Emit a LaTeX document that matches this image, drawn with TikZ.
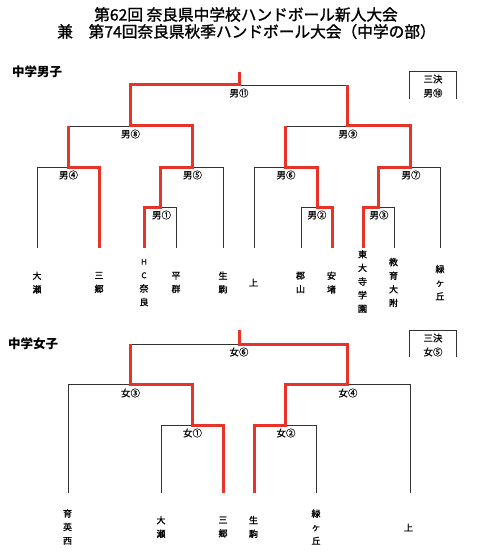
\documentclass[tikz,border=0pt]{standalone}
\usepackage{fontspec}
\newfontfamily\jp{Noto Sans CJK JP}
\newfontfamily\jpm{Noto Sans CJK JP}[AutoFakeBold=1.3]
\newfontfamily\jpl{Noto Sans CJK JP}[AutoFakeBold=0.6]
\definecolor{redline}{RGB}{232,52,40}
\begin{document}
\begin{tikzpicture}[x=1pt,y=-1pt,
  ln/.style={draw=black!80, line width=0.9pt},
  win/.style={draw=redline, line width=3pt},
  lab/.style={font=\jpl\bfseries\fontsize{9.5}{11}\selectfont, inner sep=0pt},
  team/.style={font=\jpm\bfseries\fontsize{9}{13.6}\selectfont, align=center, inner sep=0pt},
  ttl/.style={font=\jpm\bfseries\fontsize{15.7}{18}\selectfont, inner sep=0pt},
  hdr/.style={font=\jp\bfseries\fontsize{12.5}{14}\selectfont, inner sep=0pt, anchor=west}]
\useasboundingbox (0,0) rectangle (480,559);

% titles
\node[ttl] (title1) at (246,14.5) {第62回 奈良県中学校ハンドボール新人大会};
\node[ttl] (title2) at (246.5,31.5) {兼　第74回奈良県秋季ハンドボール大会（中学の部）};

%================ MEN ================
\node[hdr] (hm) at (12,72) {中学男子};

\coordinate (m1) at (37,248);  \coordinate (m2) at (99,248);
\coordinate (m3) at (144,248); \coordinate (m4) at (176,248);
\coordinate (m5) at (223,248); \coordinate (m6) at (254,248);
\coordinate (m7) at (301,248); \coordinate (m8) at (332,248);
\coordinate (m9) at (363,248); \coordinate (m10) at (394,248);
\coordinate (m11) at (440,248);

\coordinate (M1) at (160,207); \coordinate (M2) at (317,207);
\coordinate (M3) at (378,207); \coordinate (M4) at (68,167);
\coordinate (M5) at (192,167); \coordinate (M6) at (285,167);
\coordinate (M7) at (410,167); \coordinate (M8) at (130,126);
\coordinate (M9) at (347,126); \coordinate (M11) at (239,85);
\coordinate (mtop) at (239,72);

\draw[ln] (m1) |- (M4);  \draw[ln] (m2) |- (M4);
\draw[ln] (m3) |- (M1);  \draw[ln] (m4) |- (M1);
\draw[ln] (M1) |- (M5);  \draw[ln] (m5) |- (M5);
\draw[ln] (M4) |- (M8);  \draw[ln] (M5) |- (M8);
\draw[ln] (m6) |- (M6);  \draw[ln] (m7) |- (M2);
\draw[ln] (m8) |- (M2);  \draw[ln] (M2) |- (M6);
\draw[ln] (m9) |- (M3);  \draw[ln] (m10) |- (M3);
\draw[ln] (M3) |- (M7);  \draw[ln] (m11) |- (M7);
\draw[ln] (M6) |- (M9);  \draw[ln] (M7) |- (M9);
\draw[ln] (M8) |- (M11); \draw[ln] (M9) |- (M11);

\draw[win] (m3) |- (M1) |- (M5) |- (M8) |- (M11) -- (mtop);
\draw[win] (m2) |- (M4) -- (M4 |- M8);
\draw[win] (m9) |- (M3) |- (M7) |- (M9) -- (M9 |- M11);
\draw[win] (m8) |- (M2) |- (M6) -- (M6 |- M9);

\node[lab] (lm1) at (161.5,215) {男①};
\node[lab] (lm2) at (317,215) {男②};
\node[lab] (lm3) at (379,215) {男③};
\node[lab] (lm4) at (68.5,175) {男④};
\node[lab] (lm5) at (192.5,175) {男⑤};
\node[lab] (lm6) at (286,175) {男⑥};
\node[lab] (lm7) at (411,175) {男⑦};
\node[lab] (lm8) at (130.5,134) {男⑧};
\node[lab] (lm9) at (348,134) {男⑨};
\node[lab] (lm11) at (239,93) {男⑪};

\node[team] (tm1) at (37,282.5) {大\\瀬};
\node[team] (tm2) at (99,282.5) {三\\郷};
\node[team] (tm3) at (144,282.5) {\fontsize{8}{13.6}\selectfont H\\\fontsize{8}{13.6}\selectfont C\\奈\\良};
\node[team] (tm4) at (176,282.5) {平\\群};
\node[team] (tm5) at (223,282.5) {生\\駒};
\node[team] (tm6) at (253.5,282.5) {上};
\node[team] (tm7) at (300.5,282.5) {郡\\山};
\node[team] (tm8) at (331.5,282.5) {安\\堵};
\node[team] (tm9) at (362.5,281.5) {東\\大\\寺\\学\\園};
\node[team] (tm10) at (393.5,282.5) {教\\育\\大\\附};
\node[team] (tm11) at (440,282.5) {緑\\ヶ\\丘};

\draw[ln] (409,99) |- (456,71) -- (456,99);
\node[lab] (bm1) at (433,79) {三決};
\node[lab] (bm2) at (433,93) {男⑩};

%================ WOMEN ================
\node[hdr] (hw) at (8,344) {中学女子};

\coordinate (w1) at (68,493);  \coordinate (w2) at (161,493);
\coordinate (w3) at (223,493); \coordinate (w4) at (254,493);
\coordinate (w5) at (316,493); \coordinate (w6) at (410,493);

\coordinate (W1) at (192,425); \coordinate (W2) at (285,425);
\coordinate (W3) at (130,384); \coordinate (W4) at (347,384);
\coordinate (W6) at (239,344); \coordinate (wtop) at (239,330);

\draw[ln] (w1) |- (W3);  \draw[ln] (w2) |- (W1);
\draw[ln] (w3) |- (W1);  \draw[ln] (W1) |- (W3);
\draw[ln] (w4) |- (W2);  \draw[ln] (w5) |- (W2);
\draw[ln] (W2) |- (W4);  \draw[ln] (w6) |- (W4);
\draw[ln] (W3) |- (W6);  \draw[ln] (W4) |- (W6);

\draw[win] (w4) |- (W2) |- (W4) |- (W6) -- (wtop);
\draw[win] (w3) |- (W1) |- (W3) -- (W3 |- W6);

\node[lab] (lw1) at (192.5,433) {女①};
\node[lab] (lw2) at (286,433) {女②};
\node[lab] (lw3) at (130.5,393) {女③};
\node[lab] (lw4) at (348,393) {女④};
\node[lab] (lw6) at (239,352) {女⑥};

\node[team] (tw1) at (67.5,527) {育\\英\\西};
\node[team] (tw2) at (161,527) {大\\瀬};
\node[team] (tw3) at (223,527) {三\\郷};
\node[team] (tw4) at (253.5,527) {生\\駒};
\node[team] (tw5) at (316,527) {緑\\ヶ\\丘};
\node[team] (tw6) at (408.5,527.5) {上};

\draw[ln] (409,357) |- (456,330) -- (456,357);
\node[lab] (bw1) at (433,338) {三決};
\node[lab] (bw2) at (433,352) {女⑤};
\end{tikzpicture}
\end{document}
